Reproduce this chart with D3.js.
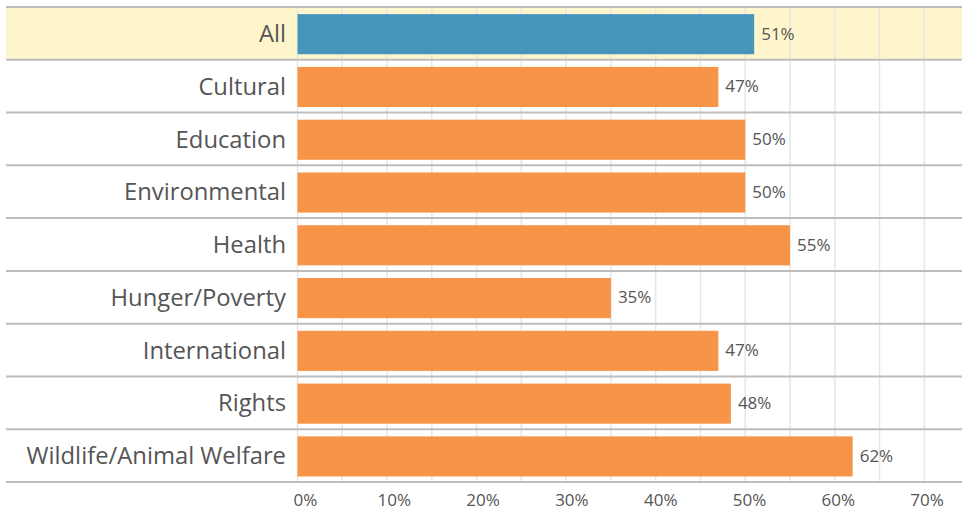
<!DOCTYPE html>
<html><head><meta charset="utf-8">
<script src="https://cdn.jsdelivr.net/npm/d3@7"></script>
<style>body{margin:0;background:#fff}svg{display:block}</style>
</head><body>
<svg id="c" width="962" height="512"></svg>
<script>
const categories = ["All","Cultural","Education","Environmental","Health","Hunger/Poverty","International","Rights","Wildlife/Animal Welfare"];
const values = [51,47,50,50,55,35,47,48.4,62];
const valueLabels = ["51%","47%","50%","50%","55%","35%","47%","48%","62%"];
const tickValues = [0,10,20,30,40,50,60,70];
const tickLabels = ["0%","10%","20%","30%","40%","50%","60%","70%"];
const gridValues = [0,5,10,15,20,25,30,35,40,45,50,55,60,65,70];

const W = 962, H = 512;
const svg = d3.select("#c");
const font = "'Open Sans', sans-serif";

const x = d3.scaleLinear().domain([0,70]).range([297.5,924.3]);
const xLab = d3.scaleLinear().domain([0,70]).range([305,926.6]);
const row = d3.scaleBand().domain(categories).range([7,482]).padding(0);
const bh = row.bandwidth();

svg.append("rect").attr("x",6).attr("y",row("All")).attr("width",W-6).attr("height",bh).attr("fill","#fff5cd");

svg.append("g").selectAll("line").data(gridValues).join("line")
  .attr("x1",d=>x(d)).attr("x2",d=>x(d)).attr("y1",7).attr("y2",482)
  .attr("stroke","#e6e6e6").attr("stroke-width",1.5);

svg.append("g").selectAll("rect").data(categories).join("rect")
  .attr("x",x(0)).attr("y",d=>row(d)+bh*0.135)
  .attr("width",(d,i)=>x(values[i])-x(0)).attr("height",bh*0.76)
  .attr("fill",(d,i)=>i===0?"#4795bb":"#f79447");

const seps = categories.map(c=>row(c)).concat([row(categories[categories.length-1])+bh]);
svg.append("g").selectAll("line").data(seps).join("line")
  .attr("x1",6).attr("x2",W).attr("y1",d=>d).attr("y2",d=>d)
  .attr("stroke","#bdbdbd").attr("stroke-width",2);

svg.append("g").selectAll("text").data(categories).join("text")
  .attr("x",286).attr("y",d=>row(d)+bh/2).attr("dy","0.36em")
  .attr("text-anchor","end").attr("fill","#555").attr("font-family",font).attr("font-size",23.8)
  .text(d=>d);

svg.append("g").selectAll("text").data(categories).join("text")
  .attr("x",(d,i)=>x(values[i])+7).attr("y",d=>row(d)+bh/2).attr("dy","0.36em")
  .attr("fill","#555").attr("font-family",font).attr("font-size",17)
  .text((d,i)=>valueLabels[i]);

const ax = d3.axisBottom(xLab).tickValues(tickValues).tickFormat((d,i)=>tickLabels[i]).tickSize(0).tickPadding(0);
const g = svg.append("g").attr("transform","translate(0,494)").call(ax);
g.select(".domain").remove();
g.selectAll("text").attr("fill","#555").attr("font-family",font).attr("font-size",17);
</script>
</body></html>
